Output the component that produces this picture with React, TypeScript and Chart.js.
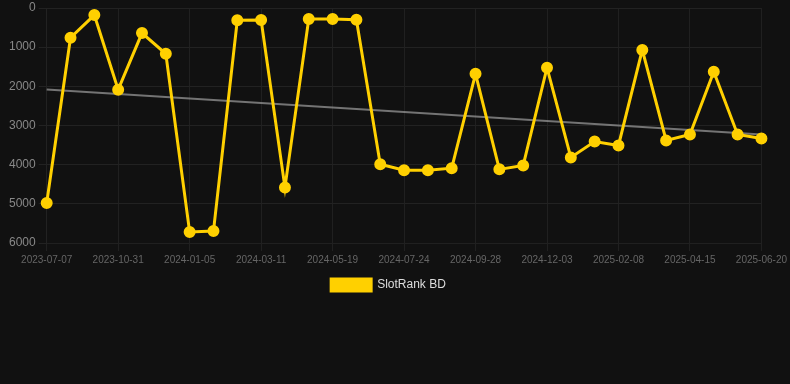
import React, { useEffect, useRef } from "react";
import { Chart, registerables } from "chart.js";

Chart.register(...registerables);

const dates: string[] = [
  "2023-07-07", "2023-08-19", "2023-09-25", "2023-10-31", "2023-11-21", "2023-12-14",
  "2024-01-05", "2024-01-27", "2024-02-18", "2024-03-11", "2024-04-03", "2024-04-26",
  "2024-05-19", "2024-06-10", "2024-07-02", "2024-07-24", "2024-08-15", "2024-09-06",
  "2024-09-28", "2024-10-20", "2024-11-11", "2024-12-03", "2024-12-25", "2025-01-17",
  "2025-02-08", "2025-03-02", "2025-03-24", "2025-04-15", "2025-05-07", "2025-05-29",
  "2025-06-20",
];

const rankValues: number[] = [
  4980, 760, 180, 2085, 640, 1170,
  5720, 5695, 315, 305, 4580, 280,
  280, 300, 3990, 4140, 4140, 4090,
  1680, 4120, 4020, 1525, 3815, 3410,
  3510, 1070, 3380, 3230, 1630, 3230,
  3330,
];

const trendStart = 2080;
const trendEnd = 3230;

const yTicks: number[] = [0, 1000, 2000, 3000, 4000, 5000, 6000];

const FONT = "Arial, 'Liberation Sans', sans-serif";

export default function App() {
  const ref = useRef<HTMLCanvasElement | null>(null);

  useEffect(() => {
    document.body.style.margin = "0";
    document.body.style.background = "#111111";
    const trend = dates.map((_, i) =>
      i === 0 ? trendStart : i === dates.length - 1 ? trendEnd : null
    );
    const chart = new Chart(ref.current as HTMLCanvasElement, {
      type: "line",
      data: {
        labels: dates,
        datasets: [
          {
            label: "SlotRank BD",
            data: rankValues,
            borderColor: "#FFD000",
            backgroundColor: "#FFD000",
            borderWidth: 3,
            pointRadius: 4.5,
            pointHoverRadius: 5,
            pointBackgroundColor: "#FFD000",
            pointBorderColor: "#FFD000",
            tension: 0,
          },
          {
            label: "trend",
            data: trend,
            borderColor: "rgba(150,150,150,0.75)",
            backgroundColor: "rgba(150,150,150,0.75)",
            borderWidth: 2,
            pointRadius: 0,
            spanGaps: true,
          },
        ],
      },
      options: {
        animation: false,
        responsive: true,
        maintainAspectRatio: false,
        layout: { padding: { left: 6, right: 19, top: 0, bottom: 0 } },
        plugins: {
          legend: {
            position: "bottom",
            labels: {
              color: "#dddddd",
              font: { family: FONT, size: 12 },
              boxWidth: 40,
              boxHeight: 12,
              filter: (item) => item.text !== "trend",
            },
          },
          tooltip: { enabled: false },
        },
        scales: {
          x: {
            offset: false,
            grid: {
              color: (ctx) => (ctx.index % 3 === 0 ? "#202020" : "rgba(0,0,0,0)"),
              tickLength: 8,
            },
            border: { color: "#202020" },
            ticks: {
              color: "#666666",
              font: { family: FONT, size: 10 },
              maxRotation: 0,
              autoSkip: false,
              callback: function (_v, i) {
                return i % 3 === 0 ? dates[i] : "";
              },
            },
          },
          y: {
            reverse: true,
            min: 0,
            max: 6000,
            grid: { color: "#222222", tickLength: 8 },
            border: { color: "#222222" },
            afterBuildTicks: (axis) => {
              axis.ticks = yTicks.map((v) => ({ value: v }));
            },
            ticks: {
              color: "#888888",
              font: { family: FONT, size: 12, lineHeight: 0.7 },
              callback: (v) => String(v),
            },
          },
        },
      },
    });
    return () => chart.destroy();
  }, []);

  return (
    <div style={{ width: 790, height: 301, position: "relative" }}>
      <canvas ref={ref} />
    </div>
  );
}
